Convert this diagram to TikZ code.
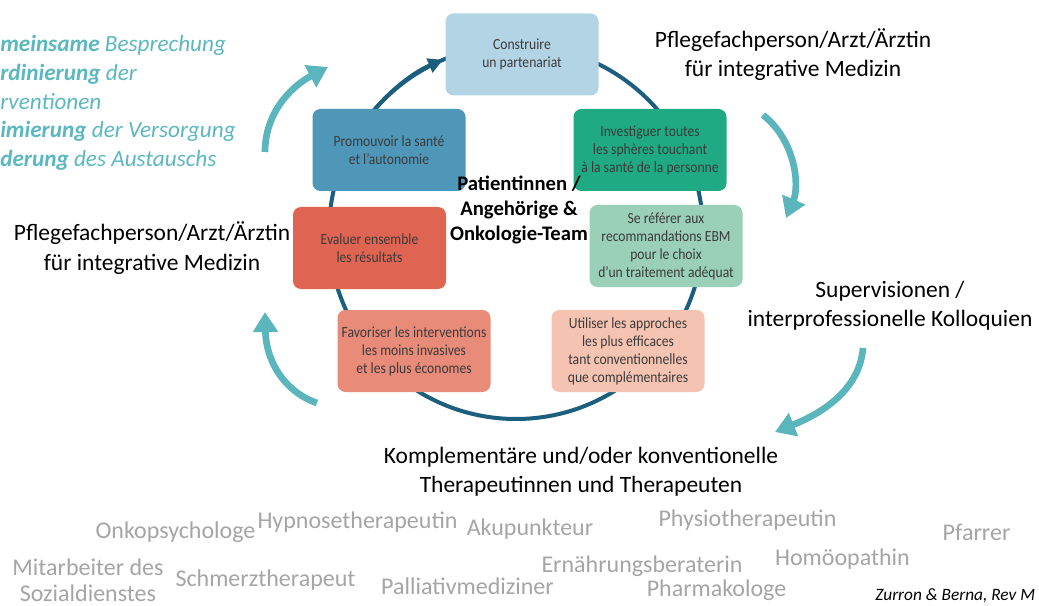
\documentclass[tikz,border=0pt]{standalone}
\usepackage{fontspec}
\setmainfont{Carlito}
\newfontfamily\boxfont[FakeStretch=0.88]{Carlito}
\usetikzlibrary{arrows.meta}
\definecolor{ringcol}{HTML}{1B5E7E}
\definecolor{cyanarr}{HTML}{5BB5BD}
\definecolor{cyantxt}{HTML}{5BB8C0}
\definecolor{greytxt}{HTML}{A5A5A5}
\definecolor{boxtxt}{HTML}{3B3B3B}
\definecolor{cA}{HTML}{B3D4E4}
\definecolor{cB}{HTML}{4F97B9}
\definecolor{cC}{HTML}{1FAA83}
\definecolor{cD}{HTML}{E06452}
\definecolor{cE}{HTML}{9ACFB8}
\definecolor{cF}{HTML}{E88B78}
\definecolor{cG}{HTML}{F5C3B1}
\begin{document}
\begin{tikzpicture}[x=0.75pt,y=-0.75pt,
  stepbox/.style={rectangle, rounded corners=6pt, minimum width=114.75pt, minimum height=61.5pt,
    inner sep=2pt, align=center, text=boxtxt, font=\boxfont\fontsize{11.6}{13.5}\selectfont},
  lbl/.style={inner sep=0pt, align=center, text=black, font=\fontsize{17.6}{21.75}\selectfont},
  teamlbl/.style={inner sep=0pt, align=center, text=black, font=\bfseries\fontsize{15.5}{18.75}\selectfont},
  greylbl/.style={inner sep=0pt, align=center, text=greytxt, font=\fontsize{18}{19.5}\selectfont},
  cyanlbl/.style={inner sep=0pt, anchor=base west, text=cyantxt, font=\itshape\fontsize{17.4}{21.75}\selectfont},
  ring/.style={draw=ringcol, line width=3pt},
  cyanarrow/.style={draw=cyanarr, line width=5pt, -{Triangle[length=15pt,width=18pt]}}
]
\useasboundingbox (0,0) rectangle (1039,606);
\fill[white] (0,0) rectangle (1039,606);

% cycle ring
\coordinate (ctr) at (516,232);
\draw[ring] (ctr) circle [radius=187];
\draw[ring, -{Triangle[length=11pt,width=11pt]}] (ctr) ++(-145:187) arc [start angle=-145, end angle=-113, radius=187];

% step boxes
\node[stepbox, fill=cA] (construire) at (522,54.5) {Construire\\un partenariat};
\node[stepbox, fill=cB] (promouvoir) at (389,150) {Promouvoir la santé\\et l’autonomie};
\node[stepbox, fill=cC] (investiguer) at (650,150) {Investiguer toutes\\les sphères touchant\\à la santé de la personne};
\node[stepbox, fill=cD] (evaluer) at (369.5,248) {Evaluer ensemble\\les résultats};
\node[stepbox, fill=cE] (referer) at (666,246) {Se référer aux\\recommandations EBM\\pour le choix\\d’un traitement adéquat};
\node[stepbox, fill=cF] (favoriser) at (414,351) {Favoriser les interventions\\les moins invasives\\et les plus économes};
\node[stepbox, fill=cG] (utiliser) at (628,351) {Utiliser les approches\\les plus efficaces\\tant conventionnelles\\que complémentaires};

% centre (base anchor = baseline of the last line)
\node[teamlbl, anchor=base] (team) at (519,240) {Patientinnen /\\Angehörige \&\\Onkologie-Team};

% surrounding labels
\node[lbl, anchor=base] (pflegeR) at (793,77) {Pflegefachperson/Arzt/Ärztin\\für integrative Medizin};
\node[lbl, anchor=base] (pflegeL) at (152,270) {Pflegefachperson/Arzt/Ärztin\\für integrative Medizin};
\node[lbl, anchor=base] (superv) at (890,326) {Supervisionen /\\interprofessionelle Kolloquien};
\node[lbl, anchor=base] (kompl) at (581,492) {Komplementäre und/oder konventionelle\\Therapeutinnen und Therapeuten};

% cyan list (cut at the left edge)
\node[cyanlbl] (l1) at (0,52) {\textbf{meinsame} Besprechung};
\node[cyanlbl] (l2) at (0,81) {\textbf{rdinierung} der};
\node[cyanlbl] (l3) at (0,110) {rventionen};
\node[cyanlbl] (l4) at (0,138) {\textbf{imierung} der Versorgung};
\node[cyanlbl] (l5) at (0,167) {\textbf{derung} des Austauschs};

% cyan curved arrows
\coordinate (a1s) at (265,152); \coordinate (a1e) at (328,67);
\draw[cyanarrow] (a1s) .. controls (265,112) and (292,86) .. (a1e);
\coordinate (a2s) at (763,115); \coordinate (a2e) at (786,218);
\draw[cyanarrow] (a2s) .. controls (795,140) and (800,185) .. (a2e);
\coordinate (a3s) at (863,348); \coordinate (a3e) at (775,432);
\draw[cyanarrow] (a3s) .. controls (860,385) and (830,410) .. (a3e);
\coordinate (a4s) at (317,403); \coordinate (a4e) at (265,312);
\draw[cyanarrow] (a4s) .. controls (285,392) and (266,362) .. (a4e);

% therapists
\node[greylbl, anchor=base] (t1) at (175.5,538) {Onkopsychologe};
\node[greylbl, anchor=base] (t2) at (357.5,528) {Hypnosetherapeutin};
\node[greylbl, anchor=base] (t3) at (530,535) {Akupunkteur};
\node[greylbl, anchor=base] (t4) at (747.5,526) {Physiotherapeutin};
\node[greylbl, anchor=base] (t5) at (976.5,540) {Pfarrer};
\node[greylbl, anchor=base] (t6) at (88,601) {Mitarbeiter des\\Sozialdienstes};
\node[greylbl, anchor=base] (t7) at (265.5,586) {Schmerztherapeut};
\node[greylbl, anchor=base] (t8) at (467.5,594) {Palliativmediziner};
\node[greylbl, anchor=base] (t9) at (642,572) {Ernährungsberaterin};
\node[greylbl, anchor=base] (t10) at (842.5,565) {Homöopathin};
\node[greylbl, anchor=base] (t11) at (716.5,596) {Pharmakologe};

\node[inner sep=0pt, anchor=base west, font=\itshape\fontsize{13}{15}\selectfont] (ref) at (875,600) {Zurron \& Berna, Rev M};
\end{tikzpicture}
\end{document}
